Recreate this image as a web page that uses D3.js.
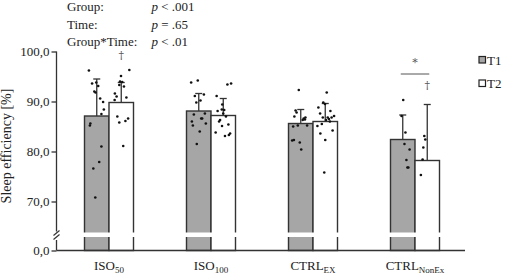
<!DOCTYPE html>
<html><head><meta charset="utf-8">
<script src="https://cdn.jsdelivr.net/npm/d3@7"></script>
<style>
body{margin:0;background:#fff;}
svg{display:block;font-family:"Liberation Serif","Times New Roman",serif;}
</style></head>
<body><svg id="c" width="505" height="274"></svg>
<script>
const groups = ["ISO50","ISO100","CTRLEX","CTRLNonEx"];
const groupBase = ["ISO","ISO","CTRL","CTRL"];
const groupSub = ["50","100","EX","NonEx"];
const times = ["T1","T2"];
const meansT1 = [87.1, 88.1, 85.6, 82.4];
const meansT2 = [89.8, 87.2, 86.0, 78.2];
const sdT1 = [7.4, 3.5, 2.8, 4.9];
const sdT2 = [4.0, 3.4, 3.6, 11.2];
const yTicks = [70, 80, 90, 100];
const statLabels = ["Group:", "Time:", "Group*Time:"];
const statP = ["< .001", "= .65", "< .01"];
// individual points: value and horizontal jitter (fraction of bar width)
const dotsT1 = [
  {v:[96.2,93.6,93.8,93.1,92.0,91.8,90.6,89.9,88.4,87.5,85.6,85.2,81.0,77.9,76.6,70.8],
   j:[.18,.31,.48,.56,.40,.45,.64,.76,.79,.69,.24,.22,.69,.60,.36,.44]},
  {v:[93.8,94.2,91.1,91.4,90.2,89.8,87.4,87.6,86.0,85.2,86.6,86.6,85.6,84.0,81.5],
   j:[.19,.46,.34,.71,.57,.40,.30,.75,.22,.26,.64,.60,.79,.54,.42]},
  {v:[92.3,88.2,87.8,87.0,86.6,86.3,86.4,86.8,85.0,85.2,85.2,82.2,82.3,81.8,80.4],
   j:[.42,.29,.33,.24,.62,.58,.67,.69,.19,.38,.76,.15,.22,.46,.52]},
  {v:[90.3,87.1,83.8,81.5,80.4,78.3,76.8,76.8],
   j:[.52,.45,.61,.57,.78,.65,.69,.73]}
];
const dotsT2 = [
  {v:[95.1,96.3,94.0,93.9,93.3,93.0,91.6,91.0,90.3,90.8,87.0,85.8,86.1,86.6,81.1],
   j:[.49,.83,.45,.54,.42,.61,.24,.31,.23,.71,.34,.42,.67,.78,.58]},
  {v:[93.4,93.6,91.1,89.4,88.3,88.4,88.1,87.6,86.3,86.0,87.0,85.4,85.1,83.8,83.1,83.3,83.6],
   j:[.67,.82,.23,.46,.54,.44,.27,.50,.37,.33,.61,.71,.45,.19,.57,.73,.78]},
  {v:[91.8,89.8,89.5,88.8,87.6,88.1,86.8,86.8,86.5,86.8,87.1,86.0,86.3,85.1,85.5,84.2,83.6,82.3,75.8],
   j:[.56,.42,.49,.22,.29,.71,.40,.60,.65,.76,.86,.69,.53,.18,.36,.80,.30,.50,.46]},
  {v:[83.1,82.4,80.8,78.4,75.3],
   j:[.38,.42,.34,.31,.24]}
];

const svg = d3.select("#c");
const ink = "#333";
const gray = "#a6a6a6";
const x0 = d3.scaleBand().domain(groups).range([58, 466]).padding(0);
const barW = 24.5;
const x1 = d3.scaleBand().domain(times)
  .range([x0.bandwidth()/2 - barW, x0.bandwidth()/2 + barW]).padding(0);
const yUp = d3.scaleLinear().domain([70, 100]).range([201.5, 51.5]);
const yLow = d3.scaleLinear().domain([0, 64]).range([250.5, 236]);
const gapTop = 232.5, gapBot = 237;
const axisX = 56.5;

const rows = [];
groups.forEach((g,i)=>{
  rows.push({g, t:"T1", m:meansT1[i], sd:sdT1[i], dots:dotsT1[i]});
  rows.push({g, t:"T2", m:meansT2[i], sd:sdT2[i], dots:dotsT2[i]});
});

// bars
const bars = svg.append("g");
rows.forEach(r=>{
  const bx = x0(r.g) + x1(r.t);
  bars.append("rect")
    .attr("x", bx).attr("y", yUp(r.m))
    .attr("width", x1.bandwidth()).attr("height", yLow(0) - yUp(r.m))
    .attr("fill", r.t==="T1" ? gray : "#fff")
    .attr("stroke", ink).attr("stroke-width", 1.4);
});
// white gap across bars (axis break)
svg.append("rect").attr("x", axisX + 1).attr("y", gapTop)
  .attr("width", 420).attr("height", gapBot - gapTop).attr("fill", "#fff");

// error bars (upward only)
rows.forEach(r=>{
  const cx = x0(r.g) + x1(r.t) + x1.bandwidth()/2;
  const g = svg.append("g").attr("stroke", ink).attr("stroke-width", 1.3);
  g.append("line").attr("x1", cx).attr("x2", cx).attr("y1", yUp(r.m)).attr("y2", yUp(r.m + r.sd));
  g.append("line").attr("x1", cx-3.5).attr("x2", cx+3.5).attr("y1", yUp(r.m + r.sd)).attr("y2", yUp(r.m + r.sd));
});

// dots
rows.forEach(r=>{
  const bx = x0(r.g) + x1(r.t);
  r.dots.v.forEach((v,k)=>{
    svg.append("circle")
      .attr("cx", bx + r.dots.j[k]*x1.bandwidth())
      .attr("cy", yUp(v)).attr("r", 1.3).attr("fill", "#111");
  });
});

// y axis upper
const fmt = v => d3.format(".1f")(v).replace(".", ",");
const axU = svg.append("g").attr("transform", `translate(${axisX},0)`)
  .call(d3.axisLeft(yUp).tickValues(yTicks).tickFormat(fmt).tickSize(5).tickSizeOuter(0));
axU.select(".domain").remove();
axU.append("line").attr("x1",0).attr("x2",0).attr("y1", yUp(100)).attr("y2", gapTop-1)
  .attr("stroke", ink).attr("stroke-width", 1.3);
const axL = svg.append("g").attr("transform", `translate(${axisX},0)`)
  .call(d3.axisLeft(yLow).tickValues([0]).tickFormat(fmt).tickSize(5).tickSizeOuter(0));
axL.select(".domain").remove();
axL.append("line").attr("x1",0).attr("x2",0).attr("y1", gapBot+3).attr("y2", yLow(0))
  .attr("stroke", ink).attr("stroke-width", 1.3);
[axU, axL].forEach(a=>{
  a.selectAll(".tick line").attr("stroke", ink).attr("stroke-width", 1.3);
  a.selectAll(".tick text").attr("font-family", "Liberation Serif").attr("font-size", 13)
    .attr("fill", "#222").attr("x", -7);
});
// break marks
[0, 4].forEach(off=>{
  svg.append("line").attr("x1", axisX-3).attr("x2", axisX+3)
    .attr("y1", gapTop+3+off).attr("y2", gapTop-2+off)
    .attr("stroke", ink).attr("stroke-width", 1.2);
});

// x axis line
svg.append("line").attr("x1", axisX).attr("x2", 465).attr("y1", yLow(0)).attr("y2", yLow(0))
  .attr("stroke", ink).attr("stroke-width", 1.4);

// x labels
groups.forEach((g,i)=>{
  const t = svg.append("text").attr("x", x0(g) + x0.bandwidth()/2).attr("y", 270)
    .attr("text-anchor", "middle").attr("font-size", 13).attr("fill", "#222");
  t.append("tspan").text(groupBase[i]);
  t.append("tspan").attr("font-size", 9).attr("dy", 3).text(groupSub[i]);
});

// y label
svg.append("text").attr("transform", "translate(11,146) rotate(-90)")
  .attr("text-anchor", "middle").attr("font-size", 14).attr("fill", "#222")
  .text("Sleep efficiency [%]");

// stats text
statLabels.forEach((s,i)=>{
  svg.append("text").attr("x", 67).attr("y", 11 + i*17.5).attr("font-size", 13).attr("fill", "#222").text(s);
  const t = svg.append("text").attr("x", 151.5).attr("y", 11 + i*17.5).attr("font-size", 13).attr("fill", "#222");
  t.append("tspan").attr("font-style", "italic").text("p");
  t.append("tspan").text(" " + statP[i]);
});

// significance markers
const sigFont = "DejaVu Serif";
const cT2iso = x0("ISO50") + x1("T2") + x1.bandwidth()/2;
svg.append("text").attr("x", cT2iso).attr("y", 59).attr("text-anchor","middle")
  .attr("font-family", sigFont).attr("font-size", 11).attr("fill", "#555").text("†");
const cN1 = x0("CTRLNonEx") + x1("T1") + x1.bandwidth()/2;
const cN2 = x0("CTRLNonEx") + x1("T2") + x1.bandwidth()/2;
svg.append("line").attr("x1", cN1 - 2).attr("x2", cN2 + 2).attr("y1", 74).attr("y2", 74)
  .attr("stroke", "#555").attr("stroke-width", 1);
svg.append("text").attr("x", (cN1+cN2)/2).attr("y", 66).attr("text-anchor","middle")
  .attr("font-family", sigFont).attr("font-size", 11).attr("fill", "#555").text("*");
svg.append("text").attr("x", cN2).attr("y", 89).attr("text-anchor","middle")
  .attr("font-family", sigFont).attr("font-size", 11).attr("fill", "#555").text("†");

// legend
times.forEach((t,i)=>{
  const ly = 60 + i*23.5;
  svg.append("rect").attr("x", 479).attr("y", ly-3.5).attr("width", 6.5).attr("height", 6.5)
    .attr("fill", t==="T1" ? gray : "#fff").attr("stroke", "#222").attr("stroke-width", 1.2);
  svg.append("text").attr("x", 487).attr("y", ly+4.5).attr("font-size", 13).attr("fill", "#222").text(t);
});
</script></body></html>
